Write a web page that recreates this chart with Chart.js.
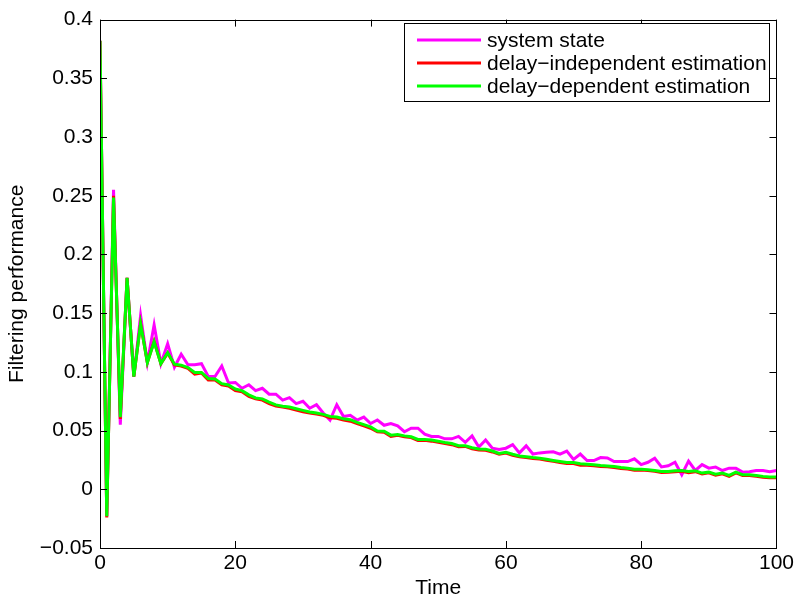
<!DOCTYPE html>
<html>
<head>
    <title>Filtering performance</title>
    <script src="https://cdn.jsdelivr.net/npm/chart.js@4.4.0/dist/chart.umd.min.js"></script>
    <style>
        body {
            margin: 0;
            background: white;
        }
        canvas {
            display: block;
        }
    </style>
</head>
<body>
    <canvas id="perfChart" width="797" height="603"></canvas>

    <script>
        // time steps 0..100
        const timeSteps = [];
        for (let t = 0; t <= 100; t++) timeSteps.push(t);

        const seriesNames = ['system state', 'delay\u2212independent estimation', 'delay\u2212dependent estimation'];
        const seriesColors = ['#ff00ff', '#ff0000', '#00ff00'];

        const systemState = [
            0.382, -0.023, 0.255, 0.055, 0.180, 0.096, 0.148, 0.108, 0.140, 0.107,
            0.124, 0.104, 0.115, 0.106, 0.106, 0.107, 0.096, 0.096, 0.105, 0.0905,
            0.091, 0.086, 0.089, 0.084, 0.086, 0.081, 0.081, 0.076, 0.078, 0.073,
            0.075, 0.069, 0.072, 0.065, 0.059, 0.072, 0.062, 0.063, 0.059, 0.0615,
            0.056, 0.059, 0.0545, 0.056, 0.054, 0.049, 0.052, 0.052, 0.047, 0.045,
            0.045, 0.043, 0.043, 0.045, 0.040, 0.0455, 0.036, 0.042, 0.035, 0.034,
            0.035, 0.038, 0.031, 0.037, 0.030, 0.031, 0.0315, 0.032, 0.030, 0.0326,
            0.0255, 0.030, 0.0245, 0.0245, 0.027, 0.0267, 0.0236, 0.0236, 0.0236, 0.026,
            0.021, 0.023, 0.0264, 0.019, 0.020, 0.023, 0.0124, 0.024, 0.016, 0.021,
            0.018, 0.019, 0.016, 0.018, 0.018, 0.0146, 0.015, 0.016, 0.016, 0.015,
            0.016
        ];

        const delayIndependent = [
            0.382, -0.024, 0.250, 0.060, 0.180, 0.096, 0.141, 0.108, 0.126, 0.107,
            0.116, 0.106, 0.105, 0.103, 0.098, 0.099, 0.093, 0.093, 0.089, 0.088,
            0.084, 0.083, 0.079, 0.077, 0.076, 0.073, 0.071, 0.070, 0.069, 0.0675,
            0.066, 0.065, 0.064, 0.063, 0.061, 0.0605, 0.059, 0.058, 0.056, 0.054,
            0.052, 0.049, 0.0485, 0.045, 0.046, 0.0448, 0.044, 0.0415, 0.0418, 0.041,
            0.040, 0.039, 0.038, 0.0362, 0.0365, 0.0345, 0.0335, 0.0333, 0.0318, 0.0298,
            0.0308, 0.029, 0.0276, 0.027, 0.0262, 0.0257, 0.0247, 0.0238, 0.0229, 0.022,
            0.022, 0.0205, 0.0205, 0.0201, 0.0195, 0.0192, 0.0186, 0.0178, 0.0173, 0.0163,
            0.0165, 0.0159, 0.0153, 0.0142, 0.0146, 0.015, 0.0153, 0.0142, 0.015, 0.013,
            0.014, 0.012, 0.0132, 0.011, 0.014, 0.0117, 0.0118, 0.0111, 0.0103, 0.0098,
            0.0098
        ];

        const delayDependent = [
            0.382, -0.023, 0.2485, 0.0615, 0.180, 0.096, 0.141, 0.108, 0.1256, 0.107,
            0.1164, 0.1065, 0.1057, 0.1037, 0.0995, 0.0995, 0.0944, 0.094, 0.090, 0.0888,
            0.0854, 0.084, 0.0804, 0.0778, 0.077, 0.0742, 0.0719, 0.0708, 0.070, 0.0686,
            0.0672, 0.0658, 0.0649, 0.0638, 0.0621, 0.0615, 0.0601, 0.0593, 0.057, 0.055,
            0.0531, 0.0497, 0.0495, 0.0461, 0.0467, 0.0455, 0.0447, 0.0424, 0.0424, 0.0419,
            0.041, 0.0399, 0.039, 0.0371, 0.0371, 0.0354, 0.0343, 0.034, 0.0326, 0.0306,
            0.0315, 0.0298, 0.0284, 0.0278, 0.027, 0.0265, 0.0255, 0.0245, 0.0236, 0.0228,
            0.0228, 0.0217, 0.0213, 0.0208, 0.0202, 0.0199, 0.0194, 0.0185, 0.018, 0.0171,
            0.0171, 0.0166, 0.016, 0.0152, 0.0152, 0.0158, 0.016, 0.0152, 0.0158, 0.0138,
            0.0146, 0.0129, 0.0138, 0.0118, 0.0146, 0.0124, 0.0124, 0.0118, 0.011, 0.0104,
            0.0104
        ];

        const xTicks = [0, 20, 40, 60, 80, 100];
        const yTicks = [-0.05, 0, 0.05, 0.1, 0.15, 0.2, 0.25, 0.3, 0.35, 0.4];

        const FONT = 'Liberation Sans, Arial, sans-serif';
        const FONT_SIZE = 21;

        function toPoints(values) {
            return values.map((v, i) => ({ x: timeSteps[i], y: v }));
        }

        function fmtTick(v) {
            const s = parseFloat(v.toFixed(2)).toString();
            return s.replace('-', '\u2212');
        }

        // box around the axes with inward ticks on all four sides
        const boxPlugin = {
            id: 'axesBox',
            afterDatasetsDraw(chart) {
                const ctx = chart.ctx;
                const a = chart.chartArea;
                const xs = chart.scales.x;
                const ys = chart.scales.y;
                const tl = 7;
                ctx.save();
                ctx.strokeStyle = '#000';
                ctx.lineWidth = 1;
                ctx.beginPath();
                xTicks.forEach(t => {
                    const px = Math.round(xs.getPixelForValue(t)) + 0.5;
                    ctx.moveTo(px, a.bottom);
                    ctx.lineTo(px, a.bottom - tl);
                    ctx.moveTo(px, a.top);
                    ctx.lineTo(px, a.top + tl);
                });
                yTicks.forEach(t => {
                    const py = Math.round(ys.getPixelForValue(t)) + 0.5;
                    ctx.moveTo(a.left, py);
                    ctx.lineTo(a.left + tl, py);
                    ctx.moveTo(a.right, py);
                    ctx.lineTo(a.right - tl, py);
                });
                ctx.stroke();
                ctx.strokeRect(Math.round(a.left) + 0.5, Math.round(a.top) + 0.5,
                    Math.round(a.right - a.left), Math.round(a.bottom - a.top));
                ctx.restore();
            }
        };

        // legend box in the upper right, like the matlab one
        const legendPlugin = {
            id: 'boxLegend',
            afterDraw(chart) {
                const ctx = chart.ctx;
                const left = 404, top = 23, right = 769, bottom = 101;
                ctx.save();
                ctx.fillStyle = '#fff';
                ctx.fillRect(left, top, right - left, bottom - top);
                ctx.strokeStyle = '#000';
                ctx.lineWidth = 1;
                ctx.strokeRect(left + 0.5, top + 0.5, right - left, bottom - top);
                ctx.font = FONT_SIZE + 'px ' + FONT;
                ctx.textBaseline = 'middle';
                chart.data.datasets.forEach((ds, i) => {
                    const y = 40 + i * 23;
                    ctx.strokeStyle = ds.borderColor;
                    ctx.lineWidth = 3;
                    ctx.beginPath();
                    ctx.moveTo(417, y);
                    ctx.lineTo(481, y);
                    ctx.stroke();
                    ctx.fillStyle = '#000';
                    ctx.fillText(ds.label, 487, y + 1);
                });
                ctx.restore();
            }
        };

        const chart = new Chart(document.getElementById('perfChart'), {
            type: 'line',
            data: {
                datasets: [
                    {
                        label: seriesNames[0],
                        data: toPoints(systemState),
                        borderColor: seriesColors[0],
                        borderWidth: 3,
                        pointRadius: 0,
                        order: 3
                    },
                    {
                        label: seriesNames[1],
                        data: toPoints(delayIndependent),
                        borderColor: seriesColors[1],
                        borderWidth: 3,
                        pointRadius: 0,
                        order: 2
                    },
                    {
                        label: seriesNames[2],
                        data: toPoints(delayDependent),
                        borderColor: seriesColors[2],
                        borderWidth: 3,
                        pointRadius: 0,
                        order: 1
                    }
                ]
            },
            options: {
                responsive: false,
                animation: false,
                devicePixelRatio: 1,
                layout: {
                    padding: { left: 0, top: 13, right: 20, bottom: 0 }
                },
                plugins: {
                    legend: { display: false },
                    tooltip: { enabled: false }
                },
                scales: {
                    x: {
                        type: 'linear',
                        min: 0,
                        max: 100,
                        afterBuildTicks: scale => {
                            scale.ticks = xTicks.map(v => ({ value: v }));
                        },
                        afterFit: scale => { scale.height = 55; },
                        grid: { display: false, drawTicks: false },
                        border: { display: false },
                        ticks: {
                            color: '#000',
                            font: { family: FONT, size: FONT_SIZE },
                            padding: 3,
                            maxRotation: 0,
                            callback: v => fmtTick(v)
                        },
                        title: {
                            display: true,
                            text: 'Time',
                            color: '#000',
                            font: { family: FONT, size: FONT_SIZE },
                            padding: { top: 0, bottom: 2 }
                        }
                    },
                    y: {
                        min: -0.05,
                        max: 0.4,
                        afterBuildTicks: scale => {
                            scale.ticks = yTicks.map(v => ({ value: v }));
                        },
                        afterFit: scale => { scale.width = 100; },
                        grid: { display: false, drawTicks: false },
                        border: { display: false },
                        ticks: {
                            color: '#000',
                            font: { family: FONT, size: FONT_SIZE },
                            padding: 7,
                            callback: v => fmtTick(v)
                        },
                        title: {
                            display: true,
                            text: 'Filtering performance',
                            color: '#000',
                            font: { family: FONT, size: FONT_SIZE },
                            padding: { top: 5, bottom: 0 }
                        }
                    }
                }
            },
            plugins: [boxPlugin, legendPlugin]
        });
    </script>
</body>
</html>
